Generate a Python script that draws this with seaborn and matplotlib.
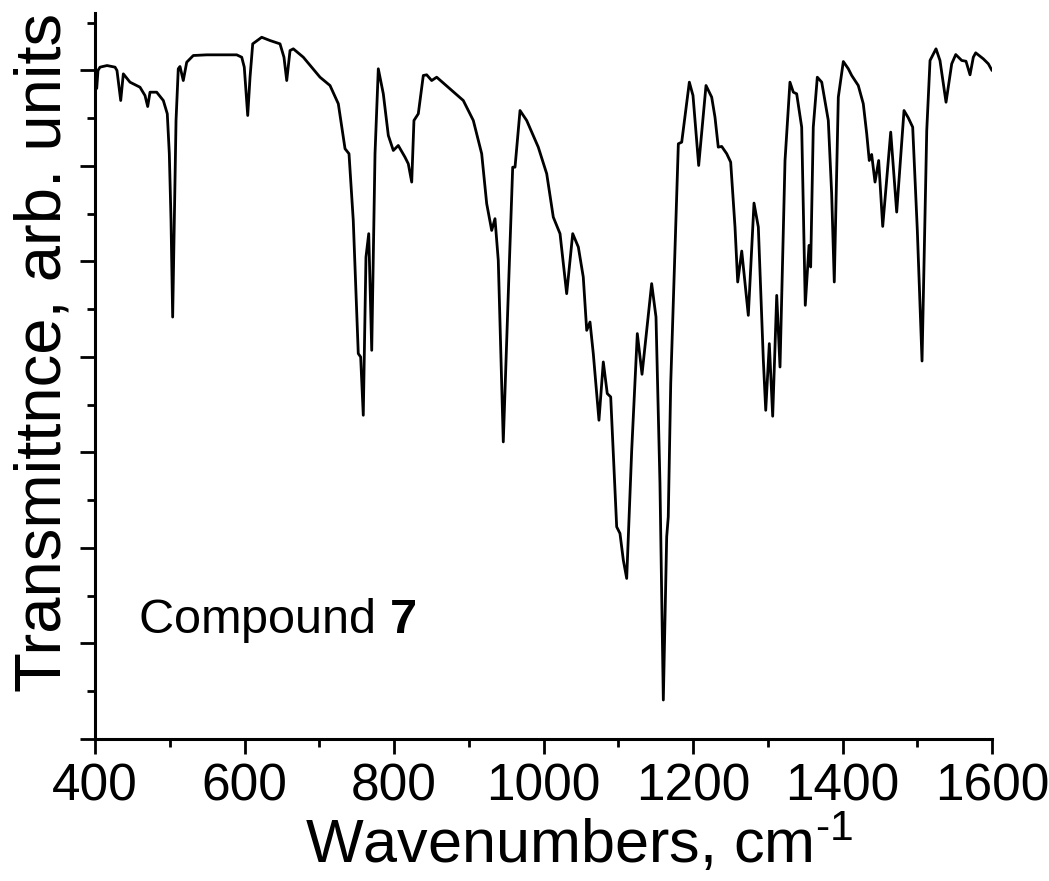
import numpy as np
import pandas as pd
import matplotlib
matplotlib.use("Agg")
import matplotlib.pyplot as plt
from matplotlib.ticker import MultipleLocator
import seaborn as sns

# ---- data ----
wavenumber = [
    400.0, 402.3, 404.0, 406.7, 416.1, 426.8, 429.4, 434.4, 437.9, 446.8,
    460.2, 466.9, 470.5, 473.6, 482.5, 491.4, 496.7, 499.4, 501.7, 503.9,
    506.1, 508.4, 511.4, 513.7, 518.1, 522.7, 531.5, 549.4, 589.6, 596.3,
    599.7, 604.3, 607.4, 611.0, 623.0, 634.1, 647.5, 652.8, 656.5, 660.9,
    665.3, 678.7, 701.0, 714.4, 725.5, 734.5, 739.8, 745.5, 752.2, 755.4,
    758.9, 762.5, 766.2, 770.2, 774.6, 779.0, 785.7, 792.4, 799.1, 805.7,
    814.7, 819.1, 823.7, 826.7, 832.5, 839.2, 843.7, 850.4, 857.1, 874.9,
    892.7, 906.1, 917.3, 924.0, 930.7, 935.1, 939.5, 946.2, 952.9, 958.8,
    961.9, 968.6, 977.5, 993.0, 1004.3, 1013.1, 1022.1, 1031.0, 1039.1, 1046.6,
    1053.2, 1057.8, 1062.2, 1066.6, 1074.2, 1080.0, 1085.3, 1089.9, 1097.9, 1102.3,
    1106.8, 1111.3, 1118.0, 1125.5, 1131.8, 1144.7, 1150.5, 1155.8, 1160.3, 1164.8,
    1166.9, 1170.2, 1175.9, 1180.4, 1184.9, 1195.1, 1200.0, 1207.6, 1217.4, 1225.0,
    1229.4, 1233.8, 1238.4, 1245.1, 1250.4, 1256.2, 1259.8, 1265.2, 1274.0, 1281.6,
    1287.4, 1294.1, 1297.3, 1302.1, 1306.6, 1312.0, 1316.4, 1323.1, 1329.7, 1334.2,
    1338.7, 1345.4, 1350.2, 1355.2, 1357.4, 1360.9, 1366.3, 1372.2, 1381.0, 1385.5,
    1389.0, 1394.4, 1401.1, 1407.8, 1412.3, 1421.1, 1427.8, 1432.4, 1435.8, 1439.0,
    1443.5, 1448.4, 1453.8, 1464.5, 1472.5, 1482.3, 1488.0, 1493.9, 1500.1, 1506.4,
    1512.7, 1517.1, 1525.1, 1530.4, 1538.5, 1546.1, 1551.5, 1559.5, 1565.2, 1570.6,
    1575.0, 1578.2, 1588.4, 1595.1, 1600.0,
]
transmittance = [
    6.977, 6.810, 6.998, 7.033, 7.050, 7.033, 6.998, 6.684, 6.963, 6.876,
    6.823, 6.736, 6.621, 6.771, 6.771, 6.684, 6.545, 6.130, 5.429, 4.417,
    5.429, 6.475, 7.016, 7.040, 6.893, 7.085, 7.155, 7.162, 7.162, 7.137,
    7.033, 6.527, 6.928, 7.277, 7.346, 7.312, 7.277, 7.137, 6.893, 7.207,
    7.225, 7.137, 6.928, 6.841, 6.650, 6.179, 6.127, 5.429, 4.035, 3.999,
    3.389, 5.045, 5.290, 4.069, 6.127, 7.016, 6.754, 6.318, 6.161, 6.213,
    6.091, 6.022, 5.830, 6.475, 6.545, 6.946, 6.953, 6.893, 6.928, 6.806,
    6.684, 6.475, 6.127, 5.604, 5.324, 5.447, 5.010, 3.110, 4.662, 5.986,
    5.986, 6.579, 6.475, 6.196, 5.917, 5.463, 5.290, 4.662, 5.290, 5.150,
    4.836, 4.278, 4.365, 4.035, 3.337, 3.947, 3.616, 3.581, 2.221, 2.152,
    1.872, 1.681, 3.023, 4.244, 3.818, 4.767, 4.417, 2.675, 0.408, 2.116,
    2.325, 3.721, 5.115, 6.231, 6.248, 6.876, 6.736, 6.004, 6.841, 6.719,
    6.510, 6.196, 6.203, 6.127, 6.039, 5.359, 4.784, 5.108, 4.435, 5.610,
    5.359, 3.964, 3.441, 4.139, 3.379, 4.644, 3.894, 6.056, 6.876, 6.771,
    6.754, 6.405, 4.540, 5.167, 4.941, 6.405, 6.928, 6.876, 6.475, 5.708,
    4.784, 6.719, 7.092, 7.016, 6.946, 6.841, 6.650, 6.336, 6.056, 6.119,
    5.830, 6.056, 5.366, 6.353, 5.516, 6.579, 6.503, 6.405, 5.324, 3.957,
    6.370, 7.103, 7.225, 7.103, 6.666, 7.068, 7.165, 7.103, 7.095, 6.953,
    7.137, 7.183, 7.120, 7.068, 6.998,
]
x_ticks = [400, 600, 800, 1000, 1200, 1400, 1600]
x_label = "Wavenumbers, cm$^{\\text{-1}}$"
y_label = "Transmittnce, arb. units"
annotation = "Compound $\\mathbf{7}$"

df = pd.DataFrame({"wavenumber": wavenumber, "transmittance": transmittance})

# ---- style ----
sns.set_theme(style="ticks")
plt.rcParams["font.family"] = ["Liberation Sans", "DejaVu Sans"]
plt.rcParams["mathtext.fontset"] = "custom"
plt.rcParams["mathtext.rm"] = "Liberation Sans"
plt.rcParams["mathtext.bf"] = "Liberation Sans:bold"
plt.rcParams["mathtext.default"] = "regular"
plt.rcParams["axes.unicode_minus"] = False

fig = plt.figure(figsize=(10.49, 8.81), dpi=100)
ax = fig.add_axes([95 / 1049, 1 - 739 / 881, (992 - 95) / 1049, (739 - 13) / 881])

sns.lineplot(data=df, x="wavenumber", y="transmittance", ax=ax, color="black",
             linewidth=2.0, sort=False, estimator=None)

ax.set_xlim(400, 1600)
ax.set_ylim(0, 7.6)
ax.set_xticks(x_ticks)
ax.set_xticklabels([str(t) for t in x_ticks])
ax.xaxis.set_minor_locator(MultipleLocator(100))
ax.yaxis.set_major_locator(MultipleLocator(1))
ax.yaxis.set_minor_locator(MultipleLocator(0.5))
ax.set_yticklabels([])

for s in ["top", "right"]:
    ax.spines[s].set_visible(False)
for s in ["left", "bottom"]:
    ax.spines[s].set_linewidth(2.2)
    ax.spines[s].set_color("black")

ax.tick_params(axis="both", which="major", length=11, width=2.0, color="black",
               labelsize=37, pad=6, labelcolor="black")
ax.tick_params(axis="both", which="minor", length=5.5, width=2.0, color="black")

ax.set_xlabel(x_label, fontsize=44, color="black")
ax.xaxis.set_label_coords(0.54, -0.101)
ax.set_ylabel(y_label, fontsize=47, color="black")
ax.yaxis.set_label_coords(-0.024, 0.533)

ax.text(457.5, 1.109, annotation, fontsize=35, color="black", va="baseline", ha="left")

fig.savefig("out.png", dpi=100, facecolor="white")
